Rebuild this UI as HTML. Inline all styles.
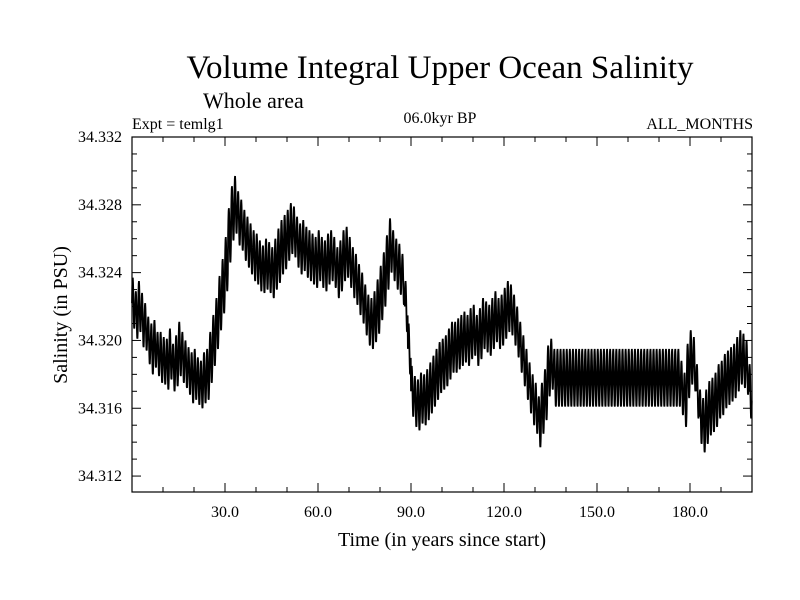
<!DOCTYPE html>
<html><head><meta charset="utf-8"><style>
html,body{margin:0;padding:0;background:#fff;}
svg{display:block;font-family:"Liberation Serif",serif;}
</style></head><body>
<svg id="chart" width="800" height="600" viewBox="0 0 800 600">
<rect width="800" height="600" fill="#fff"/>
<text x="440" y="78" font-size="33" text-anchor="middle">Volume Integral Upper Ocean Salinity</text>
<text x="203" y="108" font-size="22">Whole area</text>
<text x="132" y="129" font-size="16">Expt = temlg1</text>
<text x="440" y="123" font-size="16" text-anchor="middle">06.0kyr BP</text>
<text x="753" y="129" font-size="16" text-anchor="end">ALL_MONTHS</text>
<text transform="translate(67,315) rotate(-90)" font-size="20" text-anchor="middle">Salinity (in PSU)</text>
<text x="442" y="546" font-size="20" text-anchor="middle">Time (in years since start)</text>
<g id="plot"></g>
</svg>
<script>
const yearMeans = [
34.3222,34.3215,34.3220,34.3212,34.3208,34.3200,34.3195,34.3198,34.3192,34.3190,
34.3188,34.3186,34.3192,34.3184,34.3188,34.3195,34.3190,34.3186,34.3182,34.3178,
34.3180,34.3176,34.3174,34.3178,34.3180,34.3190,34.3200,34.3210,34.3222,34.3232,
34.3245,34.3262,34.3275,34.3280,34.3272,34.3268,34.3262,34.3258,34.3254,34.3250,
34.3248,34.3244,34.3242,34.3245,34.3243,34.3240,34.3245,34.3250,34.3255,34.3258,
34.3262,34.3266,34.3264,34.3258,34.3254,34.3256,34.3252,34.3250,34.3248,34.3246,
34.3250,34.3246,34.3244,34.3248,34.3250,34.3246,34.3240,34.3244,34.3250,34.3252,
34.3246,34.3240,34.3236,34.3230,34.3225,34.3218,34.3212,34.3210,34.3214,34.3220,
34.3228,34.3236,34.3246,34.3256,34.3250,34.3245,34.3242,34.3236,34.3220,34.3195,
34.3170,34.3164,34.3162,34.3166,34.3165,34.3168,34.3172,34.3176,34.3180,34.3184,
34.3186,34.3188,34.3192,34.3196,34.3196,34.3198,34.3200,34.3202,34.3200,34.3204,
34.3206,34.3200,34.3204,34.3210,34.3208,34.3206,34.3210,34.3214,34.3210,34.3212,
34.3216,34.3220,34.3218,34.3212,34.3205,34.3196,34.3188,34.3180,34.3172,34.3165,
34.3160,34.3152,34.3160,34.3168,34.3182,34.3186,34.3178,34.3178,34.3178,34.3178,
34.3178,34.3178,34.3178,34.3178,34.3178,34.3178,34.3178,34.3178,34.3178,34.3178,
34.3178,34.3178,34.3178,34.3178,34.3178,34.3178,34.3178,34.3178,34.3178,34.3178,
34.3178,34.3178,34.3178,34.3178,34.3178,34.3178,34.3178,34.3178,34.3178,34.3178,
34.3178,34.3178,34.3178,34.3178,34.3178,34.3178,34.3178,34.3172,34.3165,34.3182,
34.3190,34.3186,34.3170,34.3155,34.3150,34.3155,34.3160,34.3162,34.3165,34.3170,
34.3172,34.3176,34.3178,34.3180,34.3182,34.3186,34.3190,34.3188,34.3184,34.3170];
const yearAmps = [
15,14,15,16,14,14,15,14,13,15, 14,15,15,14,15,16,15,14,14,15,
15,14,14,15,15,15,15,15,16,16, 16,16,16,17,16,15,15,15,15,15,
15,15,14,15,15,15,15,16,16,16, 15,15,15,15,15,15,15,15,15,15,
15,15,15,15,15,15,15,15,15,15, 15,15,15,15,15,15,15,15,15,16,
16,16,16,16,15,15,15,15,15,15, 15,15,15,15,15,15,15,15,15,15,
15,15,15,15,15,15,15,15,15,15, 15,15,15,15,15,15,15,15,15,15,
15,15,15,15,15,15,15,15,15,15, 15,15,15,15,15,15,17,17,17,17,
17,17,17,17,17,17,17,17,17,17, 17,17,17,17,17,17,17,17,17,17,
17,17,17,17,17,17,17,17,17,17, 17,17,17,17,17,17,17,16,16,16,
16,16,16,16,16,16,16,16,16,16, 16,16,16,16,16,16,16,16,16,16];
const seasonalCycle = [0.0,0.55,0.9,1.0,0.8,0.4,-0.1,-0.6,-0.95,-1.0,-0.75,-0.35];
const yTicks = [34.312,34.316,34.320,34.324,34.328,34.332];
const xTicks = [30,60,90,120,150,180];
const xTickLabels = ["30.0","60.0","90.0","120.0","150.0","180.0"];

const L=132,R=752,T=137,B=492;
const xMin=0,xMax=200,yMin=34.31106,yMax=34.332;
const xs=v=>L+(v-xMin)/(xMax-xMin)*(R-L);
const ys=v=>B-(v-yMin)/(yMax-yMin)*(B-T);
const NS='http://www.w3.org/2000/svg';
const plot=document.getElementById('plot');
function mk(tag,attrs){const e=document.createElementNS(NS,tag);for(const k in attrs)e.setAttribute(k,attrs[k]);plot.appendChild(e);return e;}

let d='';
for(let y=0;y<yearMeans.length;y++){
  for(let m=0;m<12;m++){
    const t=y+m/12;
    const v=yearMeans[y]+yearAmps[y]*0.0001*seasonalCycle[m];
    d+=(d?'L':'M')+xs(t).toFixed(2)+' '+ys(v).toFixed(2);
  }
}
const line=mk('path',{d:d,fill:'none',stroke:'#000','stroke-width':'1.8','stroke-linejoin':'miter'});



const frame=mk('rect',{x:L,y:T,width:R-L,height:B-T,fill:'none',stroke:'#000','stroke-width':'1.2'});



for(let k=0;k<=20;k++){
  const v=34.312+k*0.001;
  if(v>yMax+1e-9)break;
  const major=yTicks.some(t=>Math.abs(t-v)<1e-7);
  const len=major?9:5;
  const py=ys(v);
  const t1=mk('line',{x1:L,x2:L+len,y1:py,y2:py,stroke:'#000','stroke-width':'1'});
  
  
  const t2=mk('line',{x1:R,x2:R-len,y1:py,y2:py,stroke:'#000','stroke-width':'1'});
  
  
}
yTicks.forEach(v=>{
  const tx=mk('text',{x:L-10,y:ys(v)+5,'font-size':'16','text-anchor':'end'});
  tx.textContent=v.toFixed(3);
  
  
});
for(let k=10;k<xMax;k+=10){
  const major=xTicks.includes(k);
  const len=major?9:5;
  const px=xs(k);
  const t1=mk('line',{x1:px,x2:px,y1:B,y2:B-len,stroke:'#000','stroke-width':'1'});
  
  
  const t2=mk('line',{x1:px,x2:px,y1:T,y2:T+len,stroke:'#000','stroke-width':'1'});
  
  
}
xTicks.forEach((v,i)=>{
  const tx=mk('text',{x:xs(v),y:B+25,'font-size':'16','text-anchor':'middle'});
  tx.textContent=xTickLabels[i];
  
  
});
</script>
</body></html>
